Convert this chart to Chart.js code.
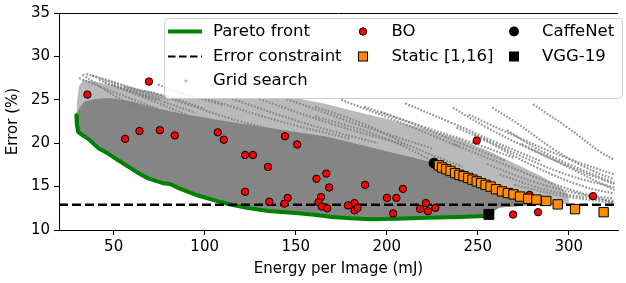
<!DOCTYPE html>
<html>
<head>
<meta charset="utf-8">
<script src="https://cdn.jsdelivr.net/npm/chart.js@4.4.1/dist/chart.umd.min.js"></script>
<style>
  html, body { margin: 0; padding: 0; background: #fff; }
  #wrap { width: 626px; height: 283px; }
</style>
</head>
<body>
<div id="wrap"><canvas id="chart" width="626" height="283"></canvas></div>
<script>
// tick labels
var xTicks = [50, 100, 150, 200, 250, 300];
var yTicks = [10, 15, 20, 25, 30, 35];

// Pareto front: [energy (mJ), error (%)]
var paretoFront = [
  [29.5, 23.2], [29.8, 22.2], [30.5, 21.3], [33, 20.9], [36, 20.5], [41.9, 19.4],
  [47, 18.8], [52.7, 18.0], [58, 17.3], [64, 16.5], [69, 15.95], [74, 15.6],
  [78, 15.35], [81, 15.3], [86, 14.8], [91, 14.4], [96, 14.0], [104, 13.5],
  [113, 13.0], [123, 12.55], [135, 12.2], [150, 11.95], [160, 11.75], [170, 11.5],
  [180, 11.35], [191, 11.25], [205, 11.3], [222, 11.4], [240, 11.5], [254, 11.6]
];

var errorConstraint = 12.9;

var boPoints = [
  [35.6, 25.6], [69.4, 27.1], [56.3, 20.5], [64.2, 21.4], [75.4, 21.5], [83.6, 20.9],
  [107.2, 21.25], [110.5, 20.4], [144.1, 20.8], [150.8, 19.85], [122.2, 18.64],
  [126.5, 18.64], [134.8, 17.27], [122.2, 14.4], [135.5, 13.26], [145.6, 13.7],
  [143.8, 13.04], [161.4, 15.9], [166.8, 16.5], [168.4, 14.9], [163.9, 13.8],
  [162.5, 13.2], [164.3, 12.7], [167.3, 12.5], [178.7, 12.84], [182.3, 13.1],
  [182.3, 12.27], [184, 12.55], [188.1, 15.2], [200.1, 13.7], [205.3, 13.7],
  [208.9, 14.74], [203.5, 11.9], [218.3, 12.43], [221.5, 13.1], [222.6, 12.16],
  [226.7, 12.55], [249.4, 20.3], [269.4, 11.78], [278.4, 14.05], [283.1, 12.05],
  [313.3, 13.9]
];

var staticPoints = [
  [228.6, 17.45], [230.4, 17.2], [232.7, 17.0], [235, 16.8], [237.5, 16.55],
  [239.9, 16.35], [242.2, 16.2], [244.8, 16.0], [247.1, 15.8], [249.4, 15.6],
  [251.8, 15.4], [254.3, 15.2], [257, 15.0], [260, 14.7], [263.3, 14.45],
  [266.5, 14.25], [269.6, 14.1], [273.2, 13.85], [277.7, 13.6], [282.2, 13.5],
  [287.6, 13.35], [293.9, 12.95], [303.4, 12.4], [319.1, 12.05]
];

var caffeNet = [[226, 17.7]];
var vgg19 = [[256.1, 11.8]];

// grid search cloud: lower edge right of the front, top of the dense core,
// top of the lighter band, and single sweeps
var gridFloorTail = [[262, 12.6], [275, 12.8], [290, 12.9], [300, 13.1]];
var gridCoreTop = [
  [29.5, 23.2], [31, 24.0], [34, 24.8], [40, 25.1], [48, 25.2], [60, 24.8], [72, 24.1],
  [85, 23.5], [110, 22.6], [140, 21.6], [166, 20.8], [190, 19.6], [205, 18.8],
  [225, 17.8], [235, 16.9], [245, 16.0], [258, 14.9], [270, 14.1], [282, 13.5],
  [290, 13.15], [300, 13.1]
];
var gridBandTop = [
  [29.5, 23.2], [30, 25.0], [31, 26.6], [33.5, 27.3], [40, 27.1], [50, 26.6],
  [60, 26.2], [70, 26.0], [77, 25.6], [90, 25.2], [120, 25.2], [150, 25.2],
  [165, 24.6], [180, 23.8], [200, 22.8], [220, 21.7], [240, 20.5], [255, 19.2],
  [270, 17.7], [285, 16.2], [295, 15.0], [300, 14.0]
];
var gridSweeps = [
  [[31, 27.5], [50, 25.9], [75, 23.9]],
  [[32.9, 27.9], [52.7, 25.2], [75, 23.0]],
  [[35, 28.0], [55, 26.6], [76, 25.0]],
  [[38, 27.8], [58, 26.5], [80, 25.0]],
  [[41.9, 27.3], [60, 25.9], [74.3, 24.9]],
  [[45, 27.0], [65, 25.4], [90, 23.3]],
  [[50, 26.7], [70, 25.3], [95, 23.5]],
  [[56, 26.5], [75, 25.6], [100, 24.0]],
  [[74.3, 26.75], [90, 25.6], [110, 24.4]],
  [[80, 25.2], [120, 22.5], [160, 20.5]],
  [[100, 25.2], [140, 22.6], [180, 20.5]],
  [[115, 25.1], [155, 22.3], [195, 20.0]],
  [[130, 25.1], [170, 22.2], [210, 19.8]],
  [[145, 25.1], [185, 22.1], [225, 19.4]],
  [[160.7, 24.2], [187.7, 22.2], [214.7, 19.5], [241.7, 17.3]],
  [[160.7, 23.1], [200, 20.5], [241.7, 16.1]],
  [[175, 25.0], [205, 22.6], [240, 19.6]],
  [[187.7, 24.2], [214.7, 22.2], [241.7, 19.9], [265, 18.0]],
  [[196.7, 23.6], [220, 21.9], [245, 20.2], [270, 18.3]],
  [[210, 24.6], [235, 22.4], [260, 20.1], [285, 17.9]],
  [[236.3, 24.1], [255, 21.8], [280, 19.2], [305, 16.9], [325, 15.3]],
  [[238.3, 21.8], [254.3, 20.3], [281.3, 17.3], [308.3, 15.0], [325, 14.2]],
  [[236.3, 19.9], [263.3, 17.65], [290.3, 15.4], [325, 13.1]],
  [[257.9, 24.1], [272.3, 22.2], [290.3, 19.5], [308.3, 17.3], [325, 15.8]],
  [[280.3, 24.5], [299.3, 21.8], [317.3, 19.0], [325, 18.1]],
  [[266, 21.5], [281.3, 19.5], [299.3, 17.65], [325, 15.4]],
  [[274, 19.9], [295.7, 17.65], [325, 14.6]],
  [[245, 23.3], [275, 20.4], [300, 18.2], [325, 16.4]],
  [[248, 21.0], [275, 18.4], [300, 16.3], [325, 14.9]],
  [[255, 17.6], [280, 15.6], [305, 14.2], [325, 13.6]],
  [[262, 16.4], [290, 14.5], [325, 13.3]],
  [[270, 15.2], [295, 14.0], [325, 13.1]]
];

var xMin = 20, xMax = 327;
var fontFamily = '"DejaVu Sans", sans-serif';

function toXY(arr) {
  return arr.map(function (p) { return { x: p[0], y: p[1] }; });
}

var datasets = [
  {
    label: "VGG-19", data: toXY(vgg19), order: 0,
    pointStyle: "rect", pointRadius: 7, backgroundColor: "#000", borderColor: "#000"
  },
  {
    label: "Static [1,16]", data: toXY(staticPoints), order: 1,
    pointStyle: "rect", pointRadius: 6.6, backgroundColor: "#ff8c00",
    borderColor: "#000", borderWidth: 1
  },
  {
    label: "CaffeNet", data: toXY(caffeNet), order: 2,
    pointStyle: "circle", pointRadius: 5, backgroundColor: "#000", borderColor: "#000"
  },
  {
    label: "BO", data: toXY(boPoints), order: 3,
    pointStyle: "circle", pointRadius: 3.7, backgroundColor: "#ff0000",
    borderColor: "#000", borderWidth: 1
  },
  {
    label: "Error constraint", order: 4,
    data: toXY([[xMin, errorConstraint], [xMax, errorConstraint]]),
    showLine: true, pointRadius: 0, borderColor: "#000", borderWidth: 2.5,
    borderDash: [9, 4]
  },
  {
    label: "Pareto front", data: toXY(paretoFront), order: 5,
    showLine: true, pointRadius: 0, borderColor: "#008000", borderWidth: 4,
    borderJoinStyle: "round", borderCapStyle: "round"
  }
];

gridSweeps.forEach(function (s) {
  datasets.push({
    label: "sweep", data: toXY(s), order: 6,
    showLine: true, pointRadius: 0, tension: 0.4,
    borderColor: "rgba(128,128,128,0.8)", borderWidth: 2.2,
    borderDash: [1.8, 1.5]
  });
});

// invisible lower edge of the grid search cloud (front + tail)
var floorIndex = datasets.length;
datasets.push({
  label: "floor", data: toXY(paretoFront.concat(gridFloorTail)), order: 9,
  showLine: true, pointRadius: 0, borderWidth: 0, borderColor: "rgba(0,0,0,0)", fill: false
});
datasets.push({
  label: "core", data: toXY(gridCoreTop), order: 7,
  showLine: true, pointRadius: 0, borderWidth: 0, borderColor: "rgba(0,0,0,0)",
  fill: { target: floorIndex, above: "#858585", below: "#858585" }
});
datasets.push({
  label: "band", data: toXY(gridBandTop), order: 8,
  showLine: true, pointRadius: 0, borderWidth: 0, borderColor: "rgba(0,0,0,0)",
  fill: { target: floorIndex, above: "#bababa", below: "#bababa" }
});

// top spine (the right one is cut off in the figure)
var framePlugin = {
  id: "frame",
  afterDatasetsDraw: function (chart) {
    var a = chart.chartArea, ctx = chart.ctx;
    var y = Math.round(a.top) + 0.5;
    ctx.save();
    ctx.strokeStyle = "#000";
    ctx.lineWidth = 1;
    ctx.beginPath();
    ctx.moveTo(a.left, y);
    ctx.lineTo(a.right, y);
    ctx.stroke();
    ctx.restore();
  }
};

// matplotlib style legend, 3 columns filled top to bottom
var legendPlugin = {
  id: "boxLegend",
  afterDraw: function (chart) {
    var ctx = chart.ctx;
    ctx.save();
    ctx.beginPath();
    if (ctx.roundRect) ctx.roundRect(164.5, 18.5, 458, 80, 4);
    else ctx.rect(164.5, 18.5, 458, 80);
    ctx.fillStyle = "rgba(255,255,255,0.85)";
    ctx.fill();
    ctx.strokeStyle = "#cccccc";
    ctx.lineWidth = 1;
    ctx.stroke();

    var rows = [31.5, 56.5, 81];

    // Pareto front
    ctx.beginPath();
    ctx.moveTo(168, rows[0]); ctx.lineTo(202, rows[0]);
    ctx.strokeStyle = "#008000"; ctx.lineWidth = 4; ctx.stroke();
    // Error constraint
    ctx.beginPath();
    ctx.setLineDash([7.5, 3.5]);
    ctx.moveTo(168, rows[1]); ctx.lineTo(202, rows[1]);
    ctx.strokeStyle = "#000"; ctx.lineWidth = 2; ctx.stroke();
    ctx.setLineDash([]);
    // Grid search
    ctx.beginPath();
    ctx.arc(186, rows[2], 1.6, 0, Math.PI * 2);
    ctx.fillStyle = "#b4b4b4"; ctx.fill();
    // BO
    ctx.beginPath();
    ctx.arc(363, rows[0], 3.7, 0, Math.PI * 2);
    ctx.fillStyle = "#ff0000"; ctx.fill();
    ctx.strokeStyle = "#000"; ctx.lineWidth = 1; ctx.stroke();
    // Static
    ctx.fillStyle = "#ff8c00";
    ctx.fillRect(358.5, rows[1] - 4.5, 9, 9);
    ctx.strokeRect(358.5, rows[1] - 4.5, 9, 9);
    // CaffeNet
    ctx.beginPath();
    ctx.arc(514, rows[0], 5, 0, Math.PI * 2);
    ctx.fillStyle = "#000"; ctx.fill();
    // VGG-19
    ctx.fillRect(509, rows[1] - 5, 10, 10);

    ctx.fillStyle = "#000";
    ctx.font = "16.5px " + fontFamily;
    ctx.textBaseline = "middle";
    ctx.textAlign = "left";
    ctx.fillText("Pareto front", 213, rows[0]);
    ctx.fillText("Error constraint", 213, rows[1]);
    ctx.fillText("Grid search", 213, rows[2]);
    ctx.fillText("BO", 391.5, rows[0]);
    ctx.fillText("Static [1,16]", 391.5, rows[1]);
    ctx.fillText("CaffeNet", 542, rows[0]);
    ctx.fillText("VGG-19", 542, rows[1]);
    ctx.restore();
  }
};

var tickFont = { family: fontFamily, size: 15 };

new Chart(document.getElementById("chart").getContext("2d"), {
  type: "scatter",
  data: { datasets: datasets },
  plugins: [framePlugin, legendPlugin],
  options: {
    responsive: false,
    devicePixelRatio: 1,
    animation: false,
    events: [],
    layout: { padding: { top: 10, right: 0, left: 0, bottom: 0 } },
    plugins: { legend: { display: false }, tooltip: { enabled: false } },
    scales: {
      x: {
        type: "linear", min: xMin, max: xMax,
        afterBuildTicks: function (s) { s.ticks = xTicks.map(function (v) { return { value: v }; }); },
        afterFit: function (s) { s.height = 53; },
        ticks: { font: tickFont, color: "#000", padding: 3, maxRotation: 0, autoSkip: false },
        grid: { drawOnChartArea: false, drawTicks: true, tickLength: 5, tickColor: "#000" },
        border: { display: true, color: "#000", width: 1 },
        title: {
          display: true, text: "Energy per Image (mJ)", color: "#000",
          font: tickFont, padding: { top: 0, bottom: 5 }
        }
      },
      y: {
        type: "linear", min: 10, max: 35,
        afterBuildTicks: function (s) { s.ticks = yTicks.map(function (v) { return { value: v }; }); },
        afterFit: function (s) { s.width = 59; },
        ticks: { font: tickFont, color: "#000", padding: 4 },
        grid: { drawOnChartArea: false, drawTicks: true, tickLength: 5, tickColor: "#000" },
        border: { display: true, color: "#000", width: 1 },
        title: {
          display: true, text: "Error (%)", color: "#000",
          font: tickFont, padding: { top: 4, bottom: 0 }
        }
      }
    }
  }
});
</script>
</body>
</html>
